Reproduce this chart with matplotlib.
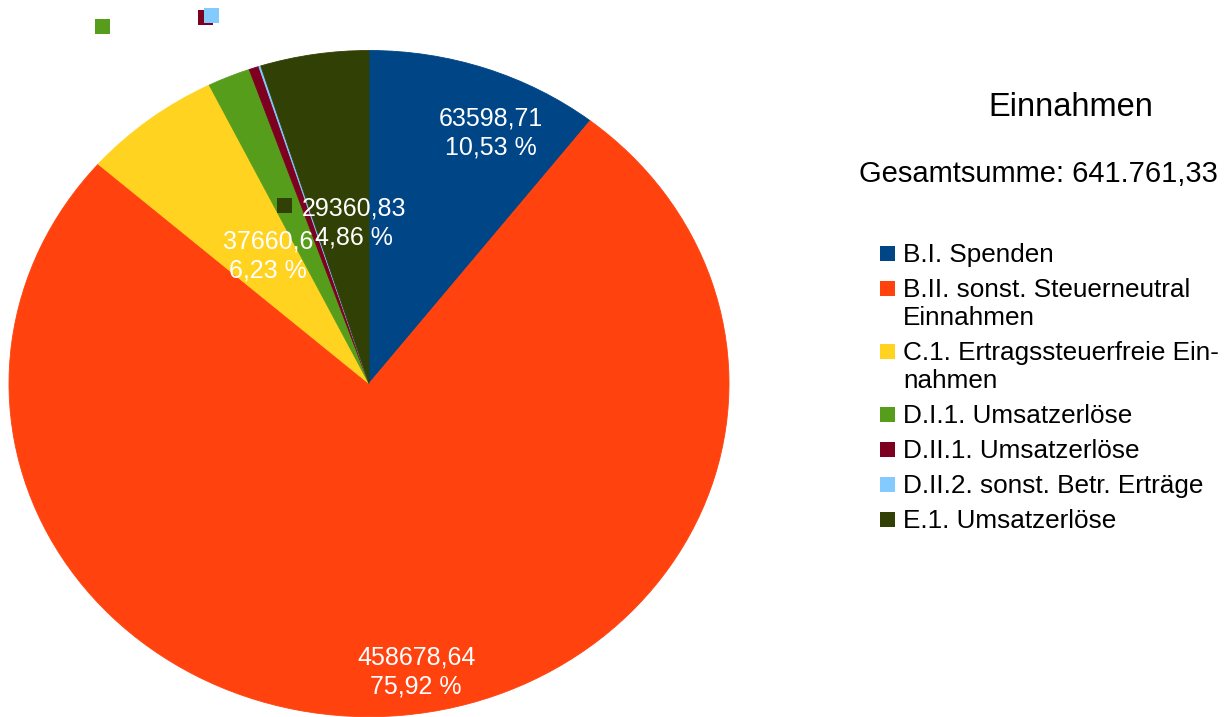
import numpy as np
import matplotlib
matplotlib.use("Agg")
import matplotlib.pyplot as plt
from matplotlib.patches import Rectangle
from matplotlib.transforms import IdentityTransform

# ---------------- data ----------------
categories = [
    "B.I. Spenden",
    "B.II. sonst. Steuerneutral\nEinnahmen",
    "C.1. Ertragssteuerfreie Ein-\nnahmen",
    "D.I.1. Umsatzerlöse",
    "D.II.1. Umsatzerlöse",
    "D.II.2. sonst. Betr. Erträge",
    "E.1. Umsatzerlöse",
]
values = [63598.71, 458678.64, 37660.6, 11600.0, 2700.0, 551.0, 29360.83]
colors = ["#004586", "#ff420e", "#ffd320", "#579d1c", "#7e0021", "#83caff", "#314004"]
title = "Einnahmen"
subtitle = "Gesamtsumme: 641.761,33"

# ---------------- figure ----------------
W, H = 1224, 717
plt.rcParams["font.family"] = ["Liberation Sans", "DejaVu Sans"]
fig = plt.figure(figsize=(W / 100, H / 100), dpi=100)

FS = 18        # label font size (pt)
FS_L = 18.8    # legend font size
EM = FS * 100 / 72
FS_T = 23.5


def fx(x):
    return x / W


def fy(y):
    return 1 - y / H


def key(xc, yc, color, size=15):
    """square key centred at pixel (xc, yc) measured from the top-left"""
    fig.add_artist(Rectangle((xc - size / 2, H - yc - size / 2), size, size,
                             facecolor=color, edgecolor="none",
                             transform=IdentityTransform()))


# pie axes box (pixels from top-left)
L, T, R, B = 9, 50.5, 729, 716.7
ax = fig.add_axes([fx(L), fy(B), (R - L) / W, (B - T) / H])
wedges, _ = ax.pie(values, colors=colors, startangle=90, counterclock=False,
                   radius=1, wedgeprops=dict(linewidth=0.6))
for w, c in zip(wedges, colors):
    w.set_edgecolor(c)
ax.set_aspect("auto")
ax.set_xlim(-1, 1)
ax.set_ylim(-1, 1)
ax.axis("off")


def fmt_val(v):
    s = f"{v:.2f}".rstrip("0").rstrip(".")
    return s.replace(".", ",")


def fmt_pct(p):
    return f"{p:.2f} %".replace(".", ",")


total = sum(values)
fracs = np.array(values) / total
ends = np.cumsum(fracs) * 360
starts = ends - fracs * 360
mids = (starts + ends) / 2          # degrees clockwise from 12 o'clock

# (radius, angle tweak) for labels drawn inside the slices
inside = {0: (0.83, 5.2), 1: (0.87, -3.2), 2: (0.48, 1.8), 6: (0.49, 3.8)}
half = 14.5
base = 0.36 * EM
for i, (r, d) in inside.items():
    th = np.radians(mids[i] + d)
    x, y = r * np.sin(th), r * np.cos(th)
    ax.annotate(fmt_val(values[i]), (x, y), xytext=(0, half - base),
                textcoords="offset pixels", ha="center", va="baseline",
                color="white", fontsize=FS)
    ax.annotate(fmt_pct(fracs[i] * 100), (x, y), xytext=(0, -half - base),
                textcoords="offset pixels", ha="center", va="baseline",
                color="white", fontsize=FS)
    if i == 6:
        dx, dy = ax.transData.transform((x, y))
        key(dx - 69, H - dy - 15, colors[i])

# outside label keys for the tiny slices (text is white on white)
key(102, 26, colors[3])
key(205, 17, colors[4])
key(211, 15, colors[5])

# ---------------- title ----------------
fig.text(fx(1071), fy(104 + 0.36 * FS_T * 100 / 72), title, ha="center",
         va="baseline", fontsize=FS_T, color="black")
fig.text(fx(1038), fy(171 + 0.36 * 21 * 100 / 72), subtitle, ha="center",
         va="baseline", fontsize=21, color="black")

# ---------------- legend ----------------
y = 253
line_h, gap = 28, 7
lbase = 0.36 * FS_L * 100 / 72
for lab, c in zip(categories, colors):
    lines = lab.split("\n")
    key(887, y, c)
    for k, ln in enumerate(lines):
        fig.text(fx(903), fy(y + k * line_h + lbase), ln, ha="left",
                 va="baseline", fontsize=FS_L, color="black")
    y += len(lines) * line_h + gap

fig.savefig("out.png", dpi=100)
